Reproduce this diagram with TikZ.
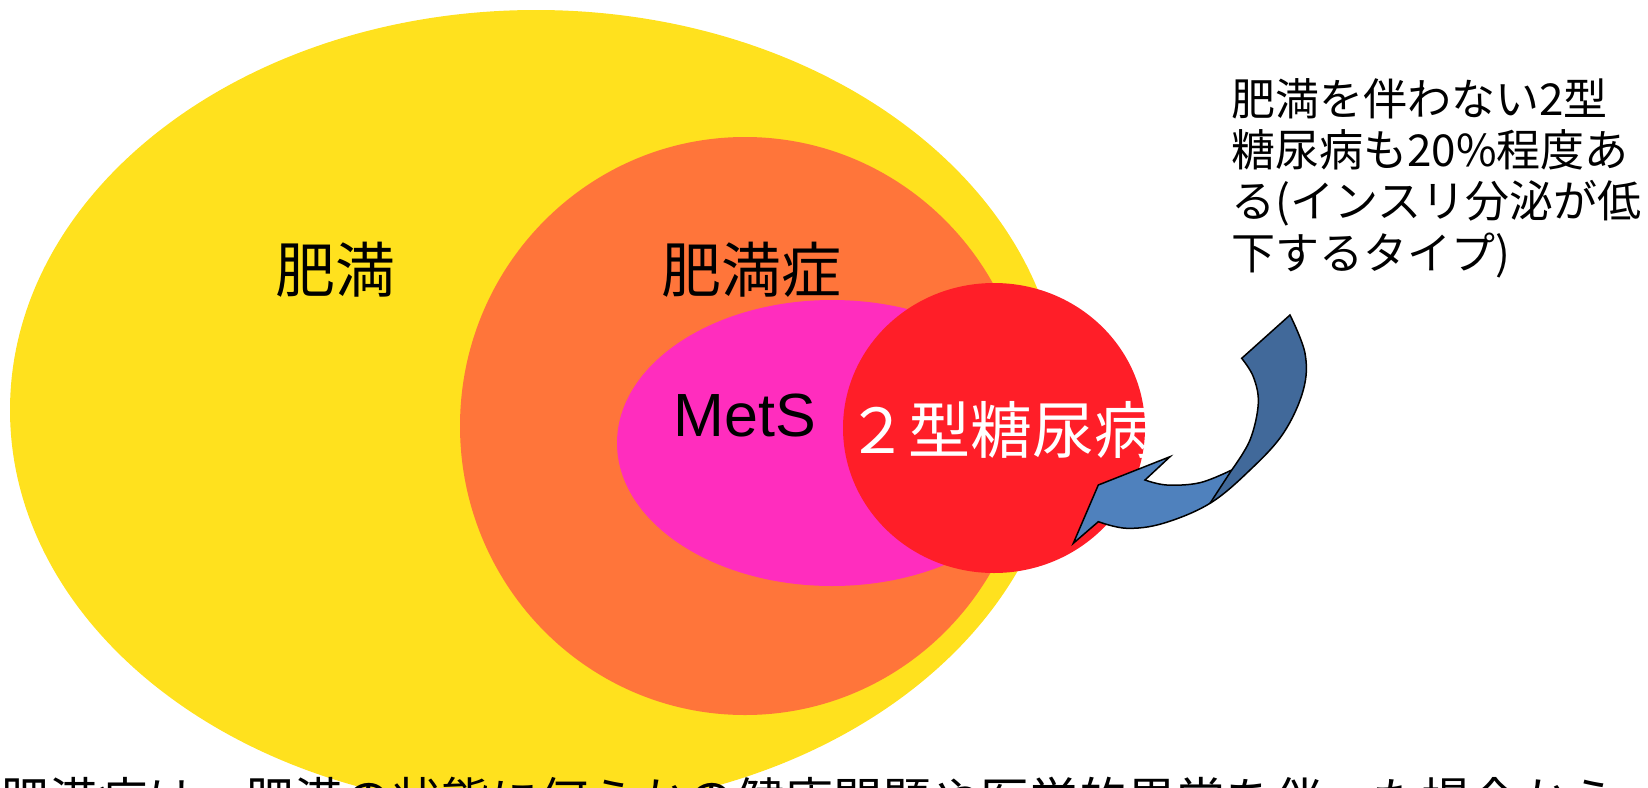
\documentclass[tikz,border=0pt]{standalone}
\usepackage{fontspec}
\setmainfont{Noto Sans CJK JP}
\newfontfamily\arialf{Liberation Sans}
\definecolor{ylw}{HTML}{FFE11E}
\definecolor{org}{HTML}{FF753A}
\definecolor{mag}{HTML}{FF2DBE}
\definecolor{rd}{HTML}{FF1E28}
\definecolor{darkarrow}{HTML}{41699A}
\definecolor{lightarrow}{HTML}{4F81BD}
\begin{document}
\begin{tikzpicture}[x=1pt,y=-1pt,
  big/.style={inner sep=0pt, anchor=base, font=\fontsize{60pt}{72pt}\selectfont},
  note/.style={inner sep=0pt, anchor=base west, font=\fontsize{44pt}{52pt}\selectfont},
  arrowline/.style={draw=black, line width=1.5pt, line join=miter}]
\useasboundingbox (0,0) rectangle (1648,787);
% sets
\fill[ylw] (536,410) ellipse [x radius=526pt, y radius=400pt];
\fill[org] (745,426) ellipse [x radius=285pt, y radius=289pt];
\fill[mag] (832,443) ellipse [x radius=215pt, y radius=143pt];
\fill[rd] (994,428) ellipse [x radius=151pt, y radius=145pt];
% labels
\node[big] (obesity) at (335,292) {肥満};
\node[big] (obesitydisease) at (751,292) {肥満症};
\node[big, font=\arialf\fontsize{61pt}{72pt}\selectfont] (mets) at (745,436) {MetS};
\node[big, text=white, font=\fontsize{62pt}{72pt}\selectfont] (t2dm) at (1001,453) {２型糖尿病};
% curved arrow
\coordinate (split) at (1231.7,470);
\coordinate (splitout) at (1210,503.3);
\def\arrowoutline{
  (1098.3,521.7) -- (1073.3,543.3) -- (1098.3,485) -- (1170,456.7) -- (1145,480)
  -- plot[smooth, tension=0.6] coordinates {(1145,480) (1166.7,485) (1200,482.7) (1231.7,470)}
  -- plot[smooth, tension=0.6] coordinates {(1231.7,470) (1250,440) (1258.3,403.3) (1253.3,376.7) (1241.7,358.3)}
  -- (1290,315)
  -- plot[smooth, tension=0.6] coordinates {(1290,315) (1305,353.3) (1303.3,390) (1283.3,433.3) (1250,470) (1210,503.3) (1163.3,523.3) (1126.7,528.3) (1098.3,521.7)}
  -- cycle}
\fill[lightarrow] \arrowoutline;
\begin{scope}
  \clip \arrowoutline;
  \fill[darkarrow] (split) -- (1190,534) -- (1400,534) -- (1400,250) -- (1231.7,250) -- cycle;
\end{scope}
\draw[arrowline] (split) -- (splitout);
\draw[arrowline] \arrowoutline;
% note
\node[note] (note1) at (1231,115) {肥満を伴わない2型};
\node[note] (note2) at (1231,166) {糖尿病も20\%程度あ};
\node[note] (note3) at (1231,217) {る(インスリ分泌が低};
\node[note] (note4) at (1231,269) {下するタイプ)};
% bottom caption (cut by the page edge)
\node[inner sep=0pt, anchor=base west, font=\fontsize{49pt}{58pt}\selectfont] (caption) at (0,818)
  {肥満症は、肥満の状態に何らかの健康問題や医学的異常を伴った場合から};
\end{tikzpicture}
\end{document}
